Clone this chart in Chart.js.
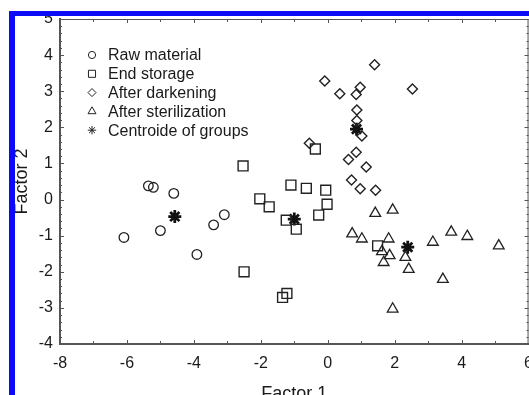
<!DOCTYPE html>
<html>
<head>
<meta charset="utf-8">
<title>Factor 1 / Factor 2</title>
<script src="https://cdn.jsdelivr.net/npm/chart.js@4.4.1/dist/chart.umd.min.js"></script>
<style>
    html, body { margin: 0; padding: 0; background: #fff; overflow: hidden; width: 529px; height: 395px; }
    #chart { position: absolute; left: 0; top: 0; }
    #frame {
        position: absolute; left: 9px; top: 11px; width: 600px; height: 500px;
        border-left: 6px solid #0b0bf5; border-top: 5px solid #0b0bf5;
        pointer-events: none;
    }
</style>
</head>
<body>
<canvas id="chart" width="543" height="408"></canvas>
<div id="frame"></div>
<script>
(function () {
    "use strict";

    // data
    var rawX = [-5.36, -5.21, -4.60, -3.09, -3.41, -5.00, -6.09, -3.91];
    var rawY = [0.38, 0.34, 0.17, -0.42, -0.70, -0.86, -1.05, -1.52];

    var endX = [-2.53, -0.37, -1.10, -0.64, -0.06, -2.03, -1.75, -0.02, -0.27, -1.24, -0.94, -2.50, -1.22, -1.35, 1.49];
    var endY = [0.93, 1.40, 0.40, 0.31, 0.26, 0.02, -0.20, -0.13, -0.43, -0.57, -0.82, -2.00, -2.60, -2.71, -1.28];

    var darkX = [1.40, -0.09, 0.36, 0.97, 0.85, 2.53, 0.87, 0.87, 1.02, -0.55, 0.85, 0.62, 1.15, 0.71, 0.97, 1.43];
    var darkY = [3.73, 3.28, 2.93, 3.11, 2.91, 3.06, 2.48, 2.19, 1.76, 1.56, 1.31, 1.11, 0.90, 0.54, 0.30, 0.26];

    var sterX = [1.42, 1.94, 0.73, 1.02, 1.82, 1.62, 1.85, 1.67, 2.32, 2.42, 3.14, 3.69, 4.17, 5.11, 3.44, 1.94];
    var sterY = [-0.38, -0.29, -0.95, -1.09, -1.09, -1.44, -1.55, -1.74, -1.60, -1.93, -1.18, -0.90, -1.02, -1.28, -2.21, -3.03];

    var centroidX = [-4.57, -1.00, 0.86, 2.39];
    var centroidY = [-0.47, -0.54, 1.95, -1.32];

    var seriesLabels = ["Raw material", "End storage", "After darkening", "After sterilization", "Centroide of groups"];
    var xTicks = { min: -8, max: 6, step: 2 };
    var yTicks = { min: -4, max: 5, step: 1 };

    var FONT = "'Liberation Sans', Arial, Helvetica, sans-serif";
    var INK = "#222";

    function pts(xs, ys) {
        return xs.map(function (x, i) { return { x: x, y: ys[i] }; });
    }

    function series(label, data, style, radius, width) {
        return {
            label: label,
            data: data,
            pointStyle: style,
            pointRadius: radius,
            pointHoverRadius: radius,
            pointBorderWidth: width,
            pointBorderColor: style === "star" ? "#111" : INK,
            pointBackgroundColor: "rgba(0,0,0,0)",
            showLine: false
        };
    }

    // legend sizes (smaller than the plotted marks)
    var legendRadius = [3.6, 5, 4, 4.6, 4.2];

    // inner tick marks and frame
    var framePlugin = {
        id: "frameTicks",
        afterDraw: function (chart) {
            var ctx = chart.ctx, a = chart.chartArea;
            var sx = chart.scales.x, sy = chart.scales.y;
            ctx.save();
            ctx.strokeStyle = "#555";
            ctx.lineWidth = 1;
            ctx.beginPath();
            ctx.moveTo(a.left, a.top + 0.5);
            ctx.lineTo(a.right, a.top + 0.5);
            ctx.moveTo(a.right - 0.5, a.top);
            ctx.lineTo(a.right - 0.5, a.bottom);
            for (var v = xTicks.min; v <= xTicks.max; v++) {
                var px = Math.round(sx.getPixelForValue(v)) + 0.5;
                var len = (v % 2 === 0) ? 4 : 3;
                ctx.moveTo(px, a.bottom);
                ctx.lineTo(px, a.bottom - len);
                ctx.moveTo(px, a.top);
                ctx.lineTo(px, a.top + len);
            }
            for (var i = yTicks.min * 5; i <= yTicks.max * 5; i++) {
                var py = Math.round(sy.getPixelForValue(i / 5)) + 0.5;
                var l = (i % 5 === 0) ? 4 : 2;
                ctx.moveTo(a.left, py);
                ctx.lineTo(a.left + l, py);
                ctx.moveTo(a.right, py);
                ctx.lineTo(a.right - l, py);
            }
            ctx.stroke();
            ctx.restore();
        }
    };

    // legend inside the plot, top left
    var legendPlugin = {
        id: "innerLegend",
        afterDraw: function (chart) {
            var ctx = chart.ctx;
            var x0 = 92, y0 = 55;
            ctx.save();
            ctx.font = "16px " + FONT;
            ctx.textBaseline = "middle";
            chart.data.datasets.forEach(function (ds, i) {
                var y = y0 + i * 18.8;
                ctx.fillStyle = "rgba(0,0,0,0)";
                ctx.strokeStyle = INK;
                ctx.lineWidth = 1;
                Chart.helpers.drawPoint(ctx, {
                    pointStyle: ds.pointStyle,
                    radius: legendRadius[i],
                    borderWidth: 1,
                    rotation: 0
                }, x0, y);
                ctx.fillStyle = "#1a1a1a";
                ctx.fillText(ds.label, x0 + 16, y + 1);
            });
            ctx.restore();
        }
    };

    var ctx = document.getElementById("chart").getContext("2d");
    var chart = new Chart(ctx, {
        type: "scatter",
        data: {
            datasets: [
                series(seriesLabels[0], pts(rawX, rawY), "circle", 4.8, 1.3),
                series(seriesLabels[1], pts(endX, endY), "rect", 7, 1.4),
                series(seriesLabels[2], pts(darkX, darkY), "rectRot", 5, 1.4),
                series(seriesLabels[3], pts(sterX, sterY), "triangle", 6.2, 1.3),
                series(seriesLabels[4], pts(centroidX, centroidY), "star", 6.5, 2.8)
            ]
        },
        plugins: [framePlugin, legendPlugin],
        options: {
            responsive: false,
            animation: false,
            events: [],
            layout: { padding: { top: 19, right: 9, left: 0, bottom: 0 } },
            plugins: {
                legend: { display: false },
                tooltip: { enabled: false }
            },
            scales: {
                x: {
                    type: "linear",
                    min: xTicks.min,
                    max: xTicks.max,
                    afterFit: function (s) { s.height = 64; },
                    ticks: { stepSize: xTicks.step, padding: 10, color: "#1a1a1a", font: { family: FONT, size: 16 } },
                    grid: { display: false, drawTicks: false },
                    border: { color: "#555", width: 2 },
                    title: { display: true, text: "Factor 1", color: "#1a1a1a", font: { family: FONT, size: 18 }, padding: { top: 0, bottom: 3 } }
                },
                y: {
                    type: "linear",
                    min: yTicks.min,
                    max: yTicks.max,
                    afterFit: function (s) { s.width = 60; },
                    ticks: { stepSize: yTicks.step, padding: 7, color: "#1a1a1a", font: { family: FONT, size: 16 } },
                    grid: { display: false, drawTicks: false },
                    border: { color: "#555", width: 2 },
                    title: { display: true, text: "Factor 2", color: "#1a1a1a", font: { family: FONT, size: 18 }, padding: { top: 11, bottom: 0 } }
                }
            }
        }
    });

})();
</script>
</body>
</html>
